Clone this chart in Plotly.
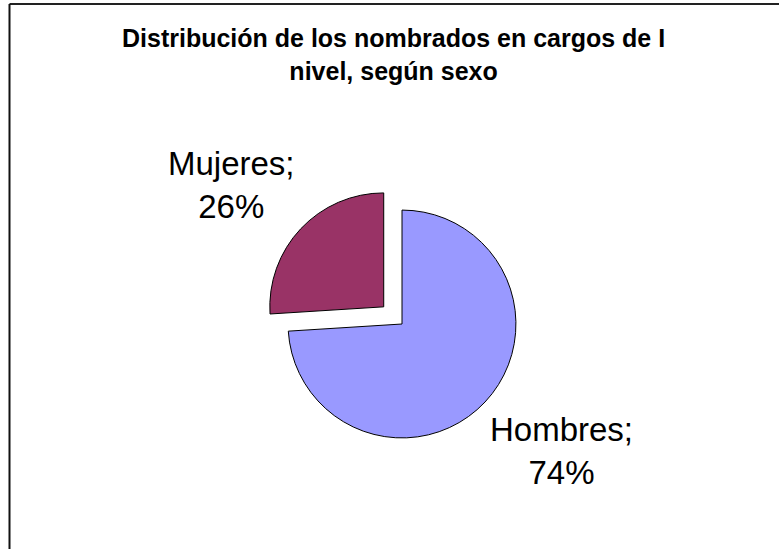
import plotly.graph_objects as go

labels = ["Hombres", "Mujeres"]
values = [74, 26]
colors = ["#9999FF", "#993366"]
pulls = [0.0, 0.22]
title_lines = ["Distribución de los nombrados en cargos de I", "nivel, según sexo"]

W, H = 779, 549

fig = go.Figure()
fig.add_trace(go.Pie(
    labels=labels, values=values, sort=False, direction="clockwise", rotation=0,
    pull=pulls, marker=dict(colors=colors, line=dict(color="black", width=1)),
    textinfo="none", hoverinfo="label+percent", showlegend=False,
    domain=dict(x=[(402 - 139) / W, (402 + 139) / W], y=[(225 - 139) / H, (225 + 139) / H]),
))

total = sum(values)
label_pos = {"Mujeres": (231, 185), "Hombres": (561, 451)}
for lab, val in zip(labels, values):
    px, py = label_pos[lab]
    fig.add_annotation(
        x=px / W, y=1 - py / H, xref="paper", yref="paper",
        text=f"{lab};<br>{round(100 * val / total)}%", showarrow=False,
        font=dict(family="Liberation Sans, Arial", size=33, color="black"),
        xanchor="center", yanchor="middle", align="center",
    )

fig.add_annotation(
    x=393 / W, y=1 - 54 / H, xref="paper", yref="paper",
    text="<b>" + "<br>".join(title_lines) + "</b>", showarrow=False,
    font=dict(family="Liberation Sans, Arial", size=25, color="black"),
    xanchor="center", yanchor="middle", align="center",
)

fig.add_shape(type="line", xref="paper", yref="paper", x0=9.5 / W, x1=1.0, y0=1 - 4 / H, y1=1 - 4 / H,
              line=dict(color="#222222", width=2))
fig.add_shape(type="line", xref="paper", yref="paper", x0=9.5 / W, x1=9.5 / W, y0=0, y1=1 - 4 / H,
              line=dict(color="#111111", width=2))

fig.update_layout(width=W, height=H, margin=dict(l=0, r=0, t=0, b=0),
                  paper_bgcolor="white", plot_bgcolor="white")
fig.write_html("out.html", config={"displayModeBar": False},
               post_script="document.body.style.margin='0';document.body.style.overflow='hidden';")
